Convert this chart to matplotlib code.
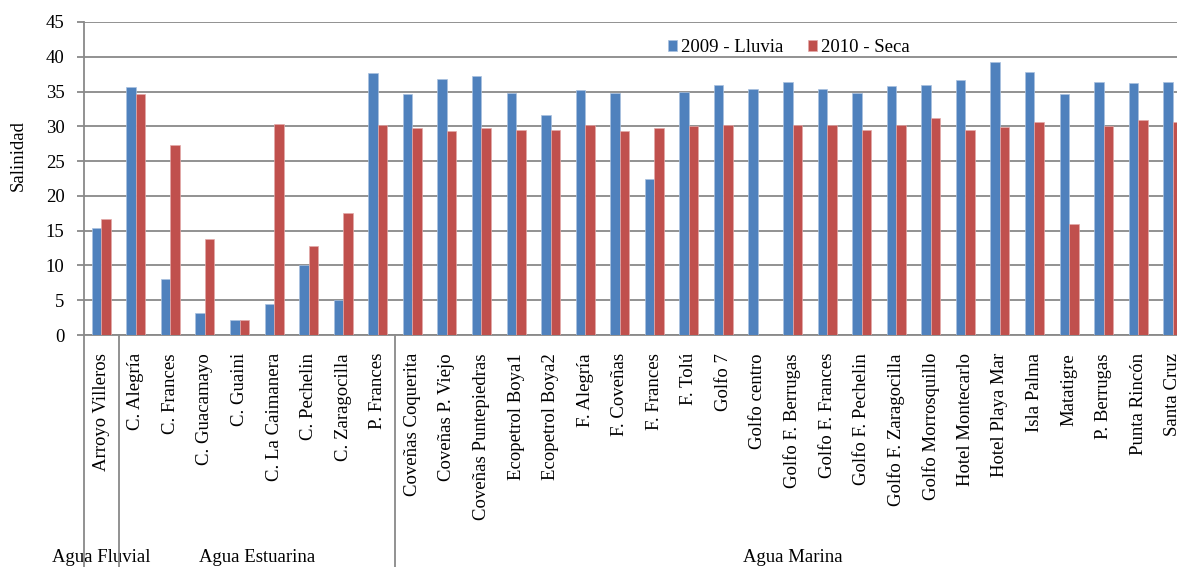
import numpy as np
import matplotlib.pyplot as plt
from matplotlib.transforms import blended_transform_factory

plt.rcParams['font.family'] = ['Liberation Serif', 'DejaVu Serif']

# Sampling sites (x categories) and salinity values
sites = [
    "Arroyo Villeros",
    "C. Alegría", "C. Frances", "C. Guacamayo", "C. Guaini", "C. La Caimanera",
    "C. Pechelin", "C. Zaragocilla", "P. Frances",
    "Coveñas Coquerita", "Coveñas P. Viejo", "Coveñas Puntepiedras",
    "Ecopetrol Boya1", "Ecopetrol Boya2", "F. Alegría", "F. Coveñas",
    "F. Frances", "F. Tolú", "Golfo 7", "Golfo centro", "Golfo F. Berrugas",
    "Golfo F. Frances", "Golfo F. Pechelin", "Golfo F. Zaragocilla",
    "Golfo Morrosquillo", "Hotel Montecarlo", "Hotel Playa Mar", "Isla Palma",
    "Matatigre", "P. Berrugas", "Punta Rincón", "Santa Cruz",
]
lluvia_2009 = [
    15.4,
    35.6, 8.1, 3.1, 2.1, 4.5, 10.1, 5.1, 37.6,
    34.6, 36.8, 37.2, 34.8, 31.6, 35.2, 34.8, 22.5, 35.0, 36.0, 35.4, 36.4,
    35.4, 34.8, 35.8, 36.0, 36.6, 39.2, 37.8, 34.6, 36.4, 36.2, 36.4,
]
seca_2010 = [
    16.7,
    34.6, 27.3, 13.8, 2.1, 30.4, 12.8, 17.6, 30.2,
    29.7, 29.3, 29.7, 29.5, 29.5, 30.2, 29.3, 29.7, 30.0, 30.2, 0.0, 30.2,
    30.2, 29.5, 30.2, 31.25, 29.5, 29.9, 30.6, 16.0, 30.0, 30.9, 30.6,
]
groups = ["Agua Fluvial", "Agua Estuarina", "Agua Marina"]
group_sizes = [1, 8, 23]

blue = '#4F81BD'
red = '#C0504D'
grid_c = '#898989'

fig = plt.figure(figsize=(11.77, 5.67), dpi=100)
# plot area runs past the right edge, as in the source (last label is cut)
ax = fig.add_axes([84 / 1177, 1 - 335 / 567, 1106 / 1177, 313 / 567])

x = np.arange(len(sites))
w = 0.275
ax.bar(x - w / 2, lluvia_2009, w, color=blue, edgecolor='#A9C1DF', linewidth=0.5,
       label='2009 - Lluvia', zorder=3)
ax.bar(x + w / 2, seca_2010, w, color=red, edgecolor='#E3A9A8', linewidth=0.5,
       label='2010 - Seca', zorder=3)

ax.set_xlim(-0.5, len(sites) - 0.5)
ax.set_ylim(0, 45)
ax.set_yticks(range(0, 46, 5))
ax.yaxis.grid(True, color=grid_c, linewidth=1.3)
ax.set_axisbelow(True)

for s in ['top', 'right', 'left']:
    ax.spines[s].set_visible(False)
ax.spines['bottom'].set_color(grid_c)
ax.spines['bottom'].set_linewidth(1.3)

ax.tick_params(axis='y', length=5, width=1.3, color=grid_c, pad=9, labelsize=13.5)
ax.set_xticks(x)
ax.set_xticklabels(sites, rotation=90, va='top', ha='center')
ax.tick_params(axis='x', length=0, pad=13, labelsize=13.5)

# group separators and the left axis line, running down through the label area
trans = blended_transform_factory(ax.transData, ax.transAxes)
bounds = np.concatenate([[0], np.cumsum(group_sizes)]) - 0.5
for b in bounds:
    ax.plot([b, b], [1 if b == -0.5 else 0, -0.8], color=grid_c, lw=1.3,
            transform=trans, clip_on=False, zorder=4)
for g, lo, hi in zip(groups, bounds[:-1], bounds[1:]):
    ax.text((lo + hi) / 2, -0.711, g, transform=trans, ha='center', va='center',
            fontsize=13.5)

fig.text(18 / 1177, 1 - 156 / 567, 'Salinidad', rotation=90, ha='center',
         va='center', fontsize=13.5)

ax.legend(loc='center left', bbox_to_anchor=(0.528, 0.918), ncol=2, frameon=False,
          fontsize=13.5, handlelength=0.5, handleheight=0.5, handletextpad=0.2,
          columnspacing=1.3, borderpad=0, borderaxespad=0)

fig.savefig('out.png', dpi=100)
